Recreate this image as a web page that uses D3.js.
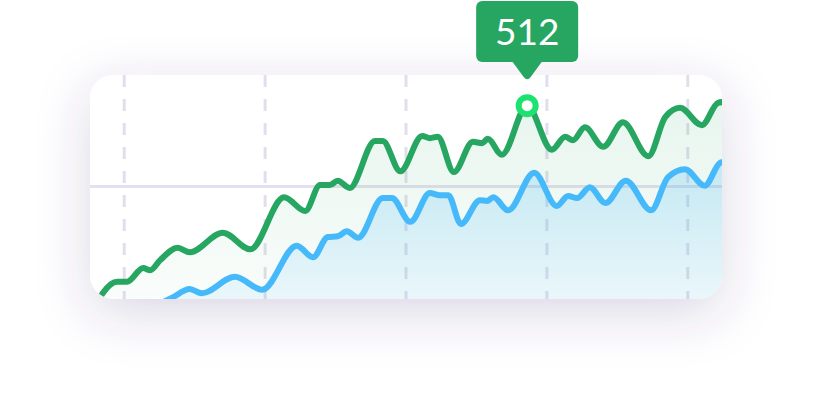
<!DOCTYPE html>
<html>
<head>
<meta charset="utf-8">
<script src="https://cdn.jsdelivr.net/npm/d3@7"></script>
<style>
  html, body { margin: 0; padding: 0; background: #fff; }
  svg { display: block; }
</style>
</head>
<body>
<div id="chart"></div>
<script>
var width = 813;
var height = 420;

// day positions and values
var greenDays = [0, 4, 5.4, 7.7, 8.7, 10.1, 12.6, 14.3, 19, 22.9, 27.7, 30.7, 32.8, 34.2, 35.3, 37, 40.6, 41.7, 44.2, 47.3, 48.4, 49.5, 51.8, 54.5, 55.8, 56.6, 58.6, 62.2, 65.7, 67.6, 68.7, 70.4, 73, 75.8, 79.4, 81.8, 83.9, 87, 89.3, 90];
var greenVals = [219, 268, 268, 287, 284, 298, 315, 309, 336, 313, 385, 366, 402, 402, 408, 398, 463, 463, 421, 470, 467, 469, 420, 462, 460, 466, 444, 512, 451, 469, 464, 482, 455, 489, 442, 496, 509, 485, 516, 517];

var blueDays = [0, 11.8, 14.3, 16, 20.7, 24.6, 29.5, 31.8, 33.9, 35.3, 36.6, 38.2, 41.7, 43, 45.6, 48.4, 49.8, 51, 52.8, 55.5, 56.5, 57.4, 59.5, 63.2, 66.4, 68, 69.3, 71.1, 73.3, 76.2, 79.8, 82.2, 84.6, 87.4, 89.6, 90];
var blueVals = [189, 246, 258, 252, 275, 257, 318, 302, 330, 331, 338, 329, 384, 384, 351, 391, 388, 388, 348, 381, 380, 385, 367, 419, 373, 387, 384, 399, 377, 408, 367, 413, 424, 401, 433, 434];

var gridDays = [5, 25, 45, 65, 85];
var gridVals = [400];
var highlightIndex = 27; // the 512 point

var card = {x: 90, y: 75, w: 632, h: 224, r: 24};

var svg = d3.select('#chart')
    .append('svg')
    .attr('width', width)
    .attr('height', height);

var defs = svg.append('defs');

var shadow = defs.append('filter')
    .attr('id', 'shadow')
    .attr('x', '-30%').attr('y', '-60%')
    .attr('width', '160%').attr('height', '230%');
shadow.append('feDropShadow')
    .attr('dx', 0).attr('dy', 14)
    .attr('stdDeviation', 26)
    .attr('flood-color', '#43387a')
    .attr('flood-opacity', 0.2);

defs.append('clipPath').attr('id', 'cardClip')
  .append('rect')
    .attr('x', card.x).attr('y', card.y)
    .attr('width', card.w).attr('height', card.h)
    .attr('rx', card.r);

var gGreen = defs.append('linearGradient').attr('id', 'gradGreen')
    .attr('x1', 0).attr('y1', 0).attr('x2', 0).attr('y2', 1);
gGreen.append('stop').attr('offset', '0%').attr('stop-color', '#27a662').attr('stop-opacity', 0.11);
gGreen.append('stop').attr('offset', '100%').attr('stop-color', '#27a662').attr('stop-opacity', 0.02);

var gBlue = defs.append('linearGradient').attr('id', 'gradBlue')
    .attr('x1', 0).attr('y1', 0).attr('x2', 0).attr('y2', 1);
gBlue.append('stop').attr('offset', '0%').attr('stop-color', '#44b9f6').attr('stop-opacity', 0.24);
gBlue.append('stop').attr('offset', '100%').attr('stop-color', '#44b9f6').attr('stop-opacity', 0.04);

var x = d3.scaleLinear().domain([0, 90]).range([89, 723]);
var y = d3.scaleLinear().domain([240, 560]).range([302, 71]);

// card
svg.append('rect')
    .attr('x', card.x).attr('y', card.y)
    .attr('width', card.w).attr('height', card.h)
    .attr('rx', card.r)
    .attr('fill', '#fff')
    .attr('filter', 'url(#shadow)');

var plot = svg.append('g').attr('clip-path', 'url(#cardClip)');

// grid
plot.selectAll('.vgrid')
    .data(gridDays)
    .enter()
    .append('line')
    .attr('class', 'vgrid')
    .attr('x1', d => x(d)).attr('x2', d => x(d))
    .attr('y1', card.y).attr('y2', card.y + card.h)
    .attr('stroke', '#e3deed')
    .attr('stroke-width', 3)
    .attr('stroke-dasharray', '12 12');

plot.selectAll('.hgrid')
    .data(gridVals)
    .enter()
    .append('line')
    .attr('class', 'hgrid')
    .attr('x1', card.x).attr('x2', card.x + card.w)
    .attr('y1', d => y(d)).attr('y2', d => y(d))
    .attr('stroke', '#e5e0ef')
    .attr('stroke-width', 3);

var green = greenDays.map((d, i) => ({day: d, val: greenVals[i]}));
var blue = blueDays.map((d, i) => ({day: d, val: blueVals[i]}));

var curve = d3.curveMonotoneX;

var area = d3.area()
    .x(d => x(d.day))
    .y0(card.y + card.h)
    .y1(d => y(d.val))
    .curve(curve);

var line = d3.line()
    .x(d => x(d.day))
    .y(d => y(d.val))
    .curve(curve);

plot.append('path').datum(green)
    .attr('d', area)
    .attr('fill', 'url(#gradGreen)');

plot.append('path').datum(blue)
    .attr('d', area)
    .attr('fill', 'url(#gradBlue)');

plot.append('path').datum(blue)
    .attr('d', line)
    .attr('fill', 'none')
    .attr('stroke', '#45b9fa')
    .attr('stroke-width', 6)
    .attr('stroke-linejoin', 'round')
    .attr('stroke-linecap', 'round');

plot.append('path').datum(green)
    .attr('d', line)
    .attr('fill', 'none')
    .attr('stroke', '#27a662')
    .attr('stroke-width', 6)
    .attr('stroke-linejoin', 'round')
    .attr('stroke-linecap', 'round');

// highlighted point
var hp = green[highlightIndex];
var hx = x(hp.day);
var hy = y(hp.val);

svg.append('circle')
    .attr('cx', hx).attr('cy', hy)
    .attr('r', 8.5)
    .attr('fill', '#fff')
    .attr('stroke', '#1de26f')
    .attr('stroke-width', 6);

// tooltip
var tip = svg.append('g').attr('transform', `translate(${hx}, 0)`);
tip.append('rect')
    .attr('x', -51).attr('y', 1)
    .attr('width', 102).attr('height', 61)
    .attr('rx', 6)
    .attr('fill', '#27a662');
tip.append('path')
    .attr('d', 'M-16,60 L-3.5,77 Q0,81.5 3.5,77 L16,60 Z')
    .attr('fill', '#27a662');
tip.append('text')
    .attr('x', 0).attr('y', 45)
    .attr('text-anchor', 'middle')
    .attr('font-family', 'Lato, sans-serif')
    .attr('font-size', 37)
    .attr('fill', '#fff')
    .text(hp.val);
</script>
</body>
</html>
